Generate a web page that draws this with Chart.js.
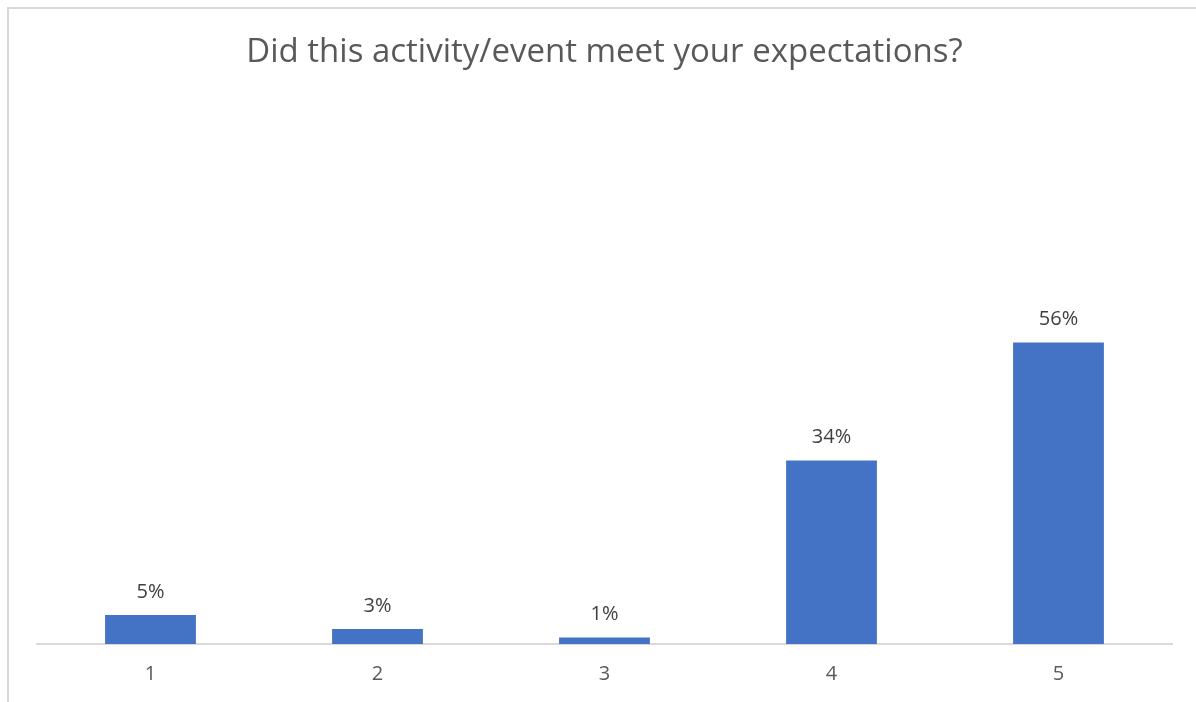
<!DOCTYPE html>
<html>
<head>
<meta charset="utf-8">
<script src="https://cdn.jsdelivr.net/npm/chart.js@4/dist/chart.umd.min.js"></script>
<style>
  html, body { margin: 0; padding: 0; background: #fff; }
  #wrap { position: relative; width: 1196px; height: 702px; overflow: hidden; }
  #frame { position: absolute; left: 7px; top: 7px; width: 1300px; height: 800px;
           border-left: 2px solid #d9d9d9; border-top: 2px solid #d9d9d9; }
  canvas { position: absolute; left: 0; top: 0; }
</style>
</head>
<body>
<div id="wrap">
  <div id="frame"></div>
  <canvas id="surveyChart" width="1196" height="702"></canvas>
</div>
<script>
// ========= data =========
const chartTitle = "Did this activity/event meet your expectations?";
const ratings = ["1", "2", "3", "4", "5"];
const percentages = [5.4, 2.8, 1.2, 34.1, 56.0];

// labels above each bar, drawn from the bar elements themselves
const barValueLabels = {
  id: "barValueLabels",
  afterDatasetsDraw(chart) {
    const ctx = chart.ctx;
    const meta = chart.getDatasetMeta(0);
    ctx.save();
    ctx.font = "20px 'Open Sans', sans-serif";
    ctx.fillStyle = "#404040";
    ctx.textAlign = "center";
    ctx.textBaseline = "bottom";
    meta.data.forEach((bar, i) => {
      const v = chart.data.datasets[0].data[i];
      ctx.fillText(Math.round(v) + "%", bar.x, bar.y - 13);
    });
    ctx.restore();
  }
};

const canvas = document.getElementById("surveyChart");
const surveyChart = new Chart(canvas.getContext("2d"), {
  type: "bar",
  data: {
    labels: ratings,
    datasets: [{
      data: percentages,
      backgroundColor: "#4472c4",
      barPercentage: 0.4,
      categoryPercentage: 1.0
    }]
  },
  options: {
    responsive: false,
    animation: false,
    layout: { padding: { left: 37, right: 24, top: 0, bottom: 6 } },
    plugins: {
      legend: { display: false },
      tooltip: { enabled: false },
      title: {
        display: true,
        text: chartTitle,
        color: "#595959",
        font: { family: "'Open Sans', sans-serif", size: 33, weight: "normal" },
        padding: { top: 33, bottom: 33 }
      }
    },
    scales: {
      x: {
        grid: { display: false },
        border: { display: true, color: "#d9d9d9", width: 2 },
        ticks: {
          color: "#595959",
          padding: 10,
          font: { family: "'Open Sans', sans-serif", size: 20 }
        }
      },
      y: {
        display: false,
        min: 0,
        max: 100
      }
    }
  },
  plugins: [barValueLabels]
});
</script>
</body>
</html>
